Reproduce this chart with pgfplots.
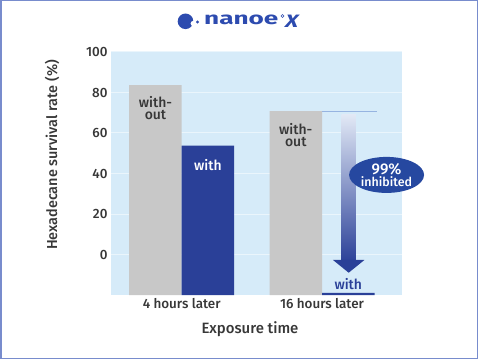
\documentclass[border=0pt]{standalone}
\usepackage{pgfplots}
\pgfplotsset{compat=1.18}
\usepackage{pgfplotstable}
\usepackage{graphicx}
\usepackage{fontspec}
\setmainfont{Fira Sans}[UprightFont=* Medium, BoldFont=* Bold, ItalicFont=* Medium Italic, BoldItalicFont=* Bold Italic]
\usetikzlibrary{shapes.geometric}
\definecolor{bgblue}{RGB}{214,235,249}
\definecolor{gridc}{RGB}{234,245,252}
\definecolor{barg}{RGB}{200,200,200}
\definecolor{darkb}{RGB}{42,64,152}
\definecolor{ellb}{RGB}{38,72,160}
\definecolor{txt}{RGB}{55,55,55}
\definecolor{framec}{RGB}{120,140,205}
\definecolor{logob}{RGB}{45,75,175}
\definecolor{thinl}{RGB}{150,180,225}
\definecolor{shaftl}{RGB}{225,232,245}

% shown values (axis labels run 0..100, bars start from the axis floor at -20)
\pgfplotstableread{
x v
0 83.6
1 70.8
}\withoutT
\pgfplotstableread{
x v
0 53.8
1 -19.0
}\withT

\begin{document}
\begin{tikzpicture}
\begin{scope}[x=1bp,y=1bp]
\draw[framec, line width=1.5bp] (0.75,0.75) rectangle (477.25,358.25);
% logo
\fill[logob] (185.5,337.7) circle (7.8);
\fill[white] (193.2,335.5) circle (2.6);
\fill[logob] (197.5,337) circle (1.7);
\node[anchor=mid west, text=logob, inner sep=0, font=\bfseries\fontsize{17.5}{17.5}\selectfont] at (204,337) {\scalebox{1.5}[1]{nanoe}};
\draw[logob, line width=0.6bp] (282.5,343) circle (1.5);
\node[anchor=base west, text=logob, inner sep=0, xslant=0.25, font=\bfseries\fontsize{18}{18}\selectfont] at (284,331.2) {\scalebox{1.25}[1]{X}};
\node[rotate=90, text=txt, font=\fontsize{14.5}{15}\selectfont] at (52,204) {Hexadecane survival rate (\%)};
\node[text=txt, font=\fontsize{15}{15}\selectfont] at (250,30) {Exposure time};
\end{scope}
\begin{axis}[
  at={(111bp,64bp)}, anchor=south west,
  width=291bp, height=243bp, scale only axis,
  xmin=-0.504, xmax=1.57, ymin=0, ymax=120,
  axis background/.style={fill=bgblue},
  axis line style={draw=none},
  major tick length=0pt,
  ytick={20,40,60,80,100,120},
  yticklabels={0,20,40,60,80,100},
  xtick={0,1},
  xticklabels={4 hours later,16 hours later},
  ymajorgrids, grid style={gridc, line width=1bp},
  tick label style={font=\fontsize{13.5}{15}\selectfont, text=txt},
  ybar, bar width=0.374,
  clip=false,
]
\addplot[fill=barg, draw=none, bar shift=-0.187] table[x=x, y expr=\thisrow{v}+20] {\withoutT};
\addplot[fill=darkb, draw=none, bar shift=0.187] table[x=x, y expr=\thisrow{v}+20] {\withT};
% annotations
\draw[thinl, line width=1.2bp] (axis cs:1.0,90.8) -- (axis cs:1.39,90.8);
\shade[top color=shaftl, bottom color=darkb] (axis cs:1.140,88.9) rectangle (axis cs:1.242,16);
\fill[darkb] (axis cs:1.078,17.3) -- (axis cs:1.302,17.3) -- (axis cs:1.19,11.0) -- cycle;
\node[text=darkb, font=\fontsize{14}{14}\selectfont] at (axis cs:1.187,5.4) {with};
\node[ellipse, fill=ellb, minimum width=75bp, minimum height=36bp, inner sep=0, text=white, align=center]
  at (axis cs:1.46,59.3) {\fontsize{15.5}{16}\selectfont 99\%\\[0.5bp]\fontsize{12.5}{13}\selectfont inhibited};
\node[text=txt, align=center, font=\fontsize{14}{12.5}\selectfont] at (axis cs:-0.187,92.3) {with-\\out};
\node[text=txt, align=center, font=\fontsize{14}{12.5}\selectfont] at (axis cs:0.813,79.0) {with-\\out};
\node[text=white, font=\fontsize{14}{14}\selectfont] at (axis cs:0.187,64.2) {with};
\end{axis}
\end{tikzpicture}
\end{document}
